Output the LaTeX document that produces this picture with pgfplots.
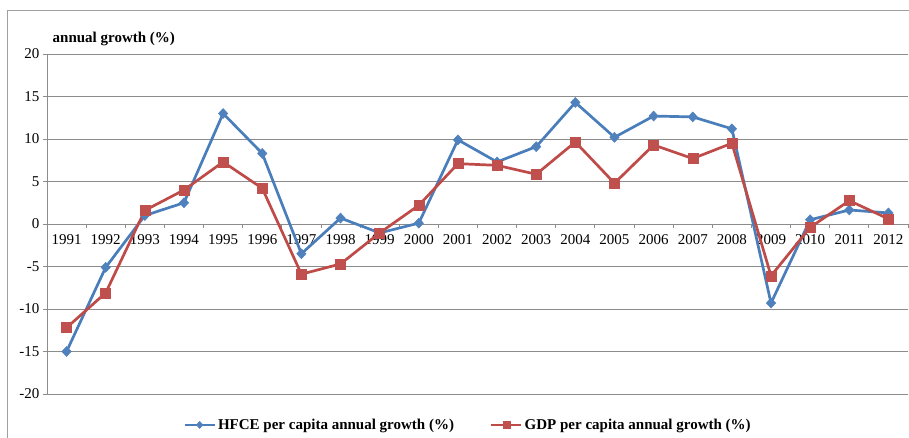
\documentclass[border=0pt]{standalone}
\usepackage{pgfplots}
\pgfplotsset{compat=1.18}
\usepackage{fontspec}
\setmainfont{Liberation Serif}

\definecolor{hfce}{RGB}{74,126,187}
\definecolor{hfcemark}{RGB}{79,129,189}
\definecolor{gdp}{RGB}{190,75,72}
\definecolor{gdpmark}{RGB}{192,80,77}
\definecolor{gridgray}{RGB}{140,140,140}
\definecolor{framegray}{RGB}{160,160,160}

\newcommand{\chartfont}{\fontsize{15}{18}\selectfont}

\begin{document}
\begin{tikzpicture}
\useasboundingbox (0pt,0pt) rectangle (909pt,437pt);
% chart area border
\draw[framegray, line width=0.8pt] (7pt,-5pt) rectangle (920pt,427pt);
\begin{axis}[
  at={(47pt,43pt)}, anchor=south west,
  width=861pt, height=340pt, scale only axis,
  xmin=-0.5, xmax=21.5, ymin=-20, ymax=20,
  axis x line=middle, axis y line=left,
  axis line style={-, gridgray, line width=0.9pt},
  ytick={-20,-15,...,20},
  yticklabels={-20,-15,-10,-5,0,5,10,15,20},
  ymajorgrids,
  grid style={gridgray, line width=0.9pt},
  xtick={0,...,21},
  xticklabels={1991,1992,1993,1994,1995,1996,1997,1998,1999,2000,2001,2002,2003,2004,2005,2006,2007,2008,2009,2010,2011,2012},
  minor xtick={-0.5,0.5,...,21.5},
  major x tick style={draw=none},
  minor x tick style={gridgray, line width=0.9pt},
  y tick style={gridgray, line width=0.9pt},
  tick align=outside,
  major tick length=4pt, minor tick length=4pt,
  tick label style={font=\chartfont, text=black},
  x tick label style={yshift=-3pt},
  clip=false,
  legend style={at={(0.489,-0.091)}, anchor=center, draw=none, fill=none,
    legend columns=2, font=\bfseries\chartfont, inner sep=0pt,
    /tikz/every even column/.append style={column sep=34pt}},
  legend image code/.code={\draw[mark repeat=2,mark phase=2,#1,
    every mark/.append style={scale=0.7}]
    plot coordinates {(0pt,0pt) (15pt,0pt) (30pt,0pt)};},
]
\addplot[hfce, line width=2.7pt, mark=diamond*, mark size=5pt,
  mark options={fill=hfcemark, draw=hfcemark, line width=0.5pt, xscale=1.25}]
  coordinates {
  (0,-15.0) (1,-5.1) (2,1.0) (3,2.5) (4,13.0) (5,8.3) (6,-3.5) (7,0.7)
  (8,-1.05) (9,0.1) (10,9.9) (11,7.3) (12,9.1) (13,14.3) (14,10.2)
  (15,12.7) (16,12.6) (17,11.2) (18,-9.3) (19,0.5) (20,1.65) (21,1.3)};
\addlegendentry{HFCE per capita annual growth (\%)}
\addplot[gdp, line width=2.7pt, mark=square*, mark size=5pt,
  mark options={fill=gdpmark, draw=gdpmark, line width=0.5pt}]
  coordinates {
  (0,-12.2) (1,-8.1) (2,1.6) (3,4.0) (4,7.3) (5,4.2) (6,-5.9) (7,-4.7)
  (8,-1.05) (9,2.2) (10,7.1) (11,6.9) (12,5.85) (13,9.65) (14,4.8)
  (15,9.3) (16,7.7) (17,9.5) (18,-6.1) (19,-0.4) (20,2.75) (21,0.6)};
\addlegendentry{GDP per capita annual growth (\%)}
\end{axis}
\node[anchor=west, inner sep=0pt, font=\bfseries\chartfont] at (52.5pt,398.5pt) {annual growth (\%)};
\end{tikzpicture}
\end{document}
